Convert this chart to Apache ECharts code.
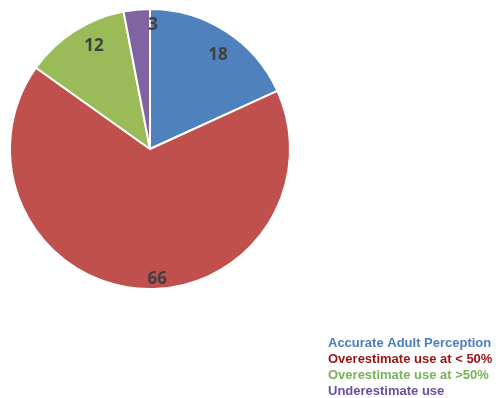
<!DOCTYPE html>
<html>
<head>
<meta charset="utf-8">
<script src="https://cdn.jsdelivr.net/npm/echarts@6/dist/echarts.min.js"></script>
<style>
  html, body { margin: 0; padding: 0; background: #ffffff; }
  #chart { width: 496px; height: 398px; }
</style>
</head>
<body>
<div id="chart"></div>
<script>
// Perception categories and counts
const categories = [
  'Accurate Adult Perception',
  'Overestimate use at < 50%',
  'Overestimate use at >50%',
  'Underestimate use'
];
const counts = [18, 66, 12, 3];
const sliceColors = ['#4F81BD', '#C0504D', '#9BBB59', '#8064A2'];
const legendColors = ['#4A7EC0', '#9A1212', '#78B25A', '#6A50A2'];
// Small nudges for the value labels
const labelOffsets = [[1, 10], [19, 7], [11, 1], [15, 0]];

const center = [150, 149];
const outerRadius = 140;

const sliceData = categories.map((name, i) => ({
  name,
  value: counts[i],
  itemStyle: { color: sliceColors[i] }
}));

// Transparent ring carrying the value labels near the outer edge
const labelData = categories.map((name, i) => ({
  name,
  value: counts[i],
  label: { offset: labelOffsets[i] }
}));

const chart = echarts.init(document.getElementById('chart'), null, { renderer: 'canvas' });
chart.setOption({
  animation: false,
  backgroundColor: '#ffffff',
  legend: {
    orient: 'vertical',
    left: 318,
    top: 331,
    height: 72,
    icon: 'none',
    itemWidth: 0,
    itemHeight: 14,
    itemGap: 2.7,
    selectedMode: false,
    data: categories.map((name, i) => ({
      name,
      textStyle: {
        color: legendColors[i],
        fontFamily: 'Liberation Sans, Arial, sans-serif',
        fontWeight: 'bold',
        fontSize: 13
      }
    }))
  },
  series: [
    {
      type: 'pie',
      center,
      radius: [0, outerRadius],
      startAngle: 90,
      clockwise: true,
      silent: true,
      label: { show: false },
      labelLine: { show: false },
      itemStyle: { borderColor: '#ffffff', borderWidth: 2 },
      data: sliceData
    },
    {
      type: 'pie',
      center,
      radius: [100, 142],
      startAngle: 90,
      clockwise: true,
      silent: true,
      legendHoverLink: false,
      itemStyle: { color: 'rgba(0,0,0,0)' },
      label: {
        show: true,
        position: 'inside',
        formatter: '{c}',
        color: '#404040',
        fontFamily: 'Open Sans, Liberation Sans, sans-serif',
        fontWeight: 'bold',
        fontSize: 17
      },
      labelLine: { show: false },
      data: labelData
    }
  ]
});
</script>
</body>
</html>
